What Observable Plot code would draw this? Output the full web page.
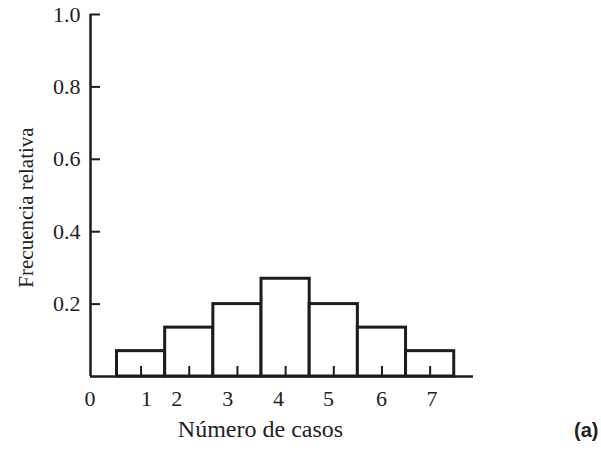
<!DOCTYPE html>
<html>
<head>
<meta charset="utf-8">
<script src="https://cdn.jsdelivr.net/npm/d3@7"></script>
<script src="https://cdn.jsdelivr.net/npm/@observablehq/plot@0.6"></script>
<style>
  html, body { margin: 0; padding: 0; background: #fff; }
</style>
</head>
<body>
<div id="chart"></div>
<script>
// Data
const casos = [1, 2, 3, 4, 5, 6, 7];
const frecuencia = [0.07, 0.135, 0.2, 0.27, 0.2, 0.135, 0.07];
const yTicks = [0.2, 0.4, 0.6, 0.8, 1.0];
const xTickLabels = ["0", "1", "2", "3", "4", "5", "6", "7"];
const xTickLabelAt = [-0.06, 1.11, 1.74, 2.80, 3.85, 4.89, 5.99, 7.04];
const xTitle = "Número de casos";
const yTitle = "Frecuencia relativa";
const panelTag = "(a)";

const W = 601, H = 452;
const mL = 90, mR = 128, mT = 14, mB = 76;
const plotW = W - mL - mR, plotH = H - mT - mB;
const xDomain = [-0.05, 7.9];
const ink = "#1c1c1c";

const bars = casos.map((c, i) => ({c, f: frecuencia[i]}));
const labels = xTickLabels.map((t, i) => ({t, x: xTickLabelAt[i]}));

const chart = Plot.plot({
  width: W, height: H,
  marginLeft: mL, marginRight: mR, marginTop: mT, marginBottom: mB,
  style: {fontFamily: "'Liberation Serif', 'Times New Roman', serif", fontSize: "22px", color: "#222", background: "#fff"},
  x: {domain: xDomain, axis: null},
  y: {domain: [0, 1], axis: null},
  marks: [
    Plot.rectY(bars, {x1: d => d.c - 0.5, x2: d => d.c + 0.5, y: "f", fill: "white", stroke: ink, strokeWidth: 3}),
    Plot.tickX(casos, {x: d => d, stroke: ink, strokeWidth: 2, insetTop: plotH - 10}),
    Plot.tickY(yTicks, {y: d => d, stroke: ink, strokeWidth: 2, insetRight: plotW - 10}),
    Plot.ruleX([xDomain[0]], {stroke: ink, strokeWidth: 2.5}),
    Plot.ruleY([0], {stroke: ink, strokeWidth: 2.5}),
    Plot.axisY({ticks: yTicks, tickSize: 0, tickPadding: 10, tickFormat: d3.format(".1f"), label: null, fontSize: 22, fill: "#222"}),
    Plot.text(labels, {x: "x", y: () => 0, text: "t", dy: 22, fontSize: 22, fill: "#222"}),
    Plot.text([xTitle], {frameAnchor: "bottom", dx: -21.5, dy: 60, fontSize: 24, fill: "#222"}),
    Plot.text([yTitle], {frameAnchor: "left", textAnchor: "middle", rotate: -90, dx: -64, dy: 12, fontSize: 21, fill: "#222"}),
    Plot.text([panelTag], {frameAnchor: "bottom-right", textAnchor: "end", dx: 125, dy: 60, fontSize: 20, fontWeight: "bold", fontFamily: "'Liberation Sans', Arial, sans-serif", fill: "#222"})
  ]
});
document.getElementById("chart").appendChild(chart);
</script>
</body>
</html>
